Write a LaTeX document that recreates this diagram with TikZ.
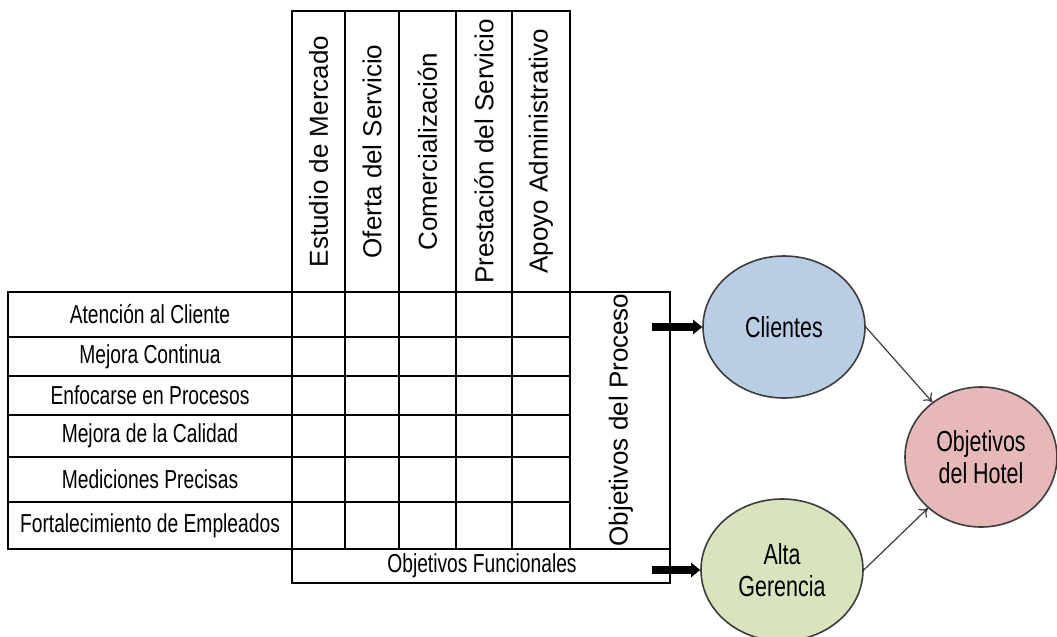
\documentclass[tikz,border=0pt]{standalone}
\usepackage{fontspec}
\setmainfont{Liberation Sans}
\newfontfamily\estrecha[FakeStretch=0.74]{Liberation Sans}
\usepackage{tikz}
\usetikzlibrary{positioning,arrows.meta,shapes.geometric}
\definecolor{cazul}{HTML}{B9CDE5}
\definecolor{cverde}{HTML}{D7E4BD}
\definecolor{crosa}{HTML}{E6B9B8}
\definecolor{cborde}{HTML}{3C3C3C}
\tikzset{
  linea/.style={line width=0.95pt, draw=black},
  fila/.style={font=\estrecha\fontsize{13}{15}\selectfont, inner sep=0pt},
  columna/.style={font=\fontsize{13}{15}\selectfont, rotate=90, inner sep=0pt},
  ovalo/.style={ellipse, draw=cborde, line width=0.8pt, minimum width=81pt,
    minimum height=71pt, inner sep=0pt, align=center,
    font=\estrecha\fontsize{14.5}{16}\selectfont},
  flechag/.style={-{Triangle[length=4.5pt,width=7pt]}, line width=3.6pt},
  flechaf/.style={-{To[length=4pt,width=6pt]}, line width=0.6pt, draw=cborde},
}

\begin{document}
\begin{tikzpicture}[x=0.5pt, y=-0.5pt]
  \useasboundingbox (0,0) rectangle (1057,637);
  \fill[white] (0,0) rectangle (1057,637);
  % tabla
  \draw[linea] (292,11) rectangle (570,292);
  \draw[linea] (8,292) rectangle (670,549);
  \draw[linea] (292,549) rectangle (670,583);
  \foreach \x in {292,345,399,456,512,570}
    \draw[linea] (\x,11) -- (\x,549);
  \foreach \y in {337,376,415,457,502}
    \draw[linea] (8,\y) -- (570,\y);
  \foreach \x/\t [count=\i] in {318.5/Estudio de Mercado, 372/Oferta del Servicio,
      427.5/Comercialización, 484/Prestación del Servicio, 541/Apoyo Administrativo}
    \node[columna] (c\i) at (\x,151.5) {\t};
  \foreach \y/\t [count=\i] in {314.5/Atención al Cliente, 356.5/Mejora Continua,
      395.5/Enfocarse en Procesos, 436/Mejora de la Calidad,
      479.5/Mediciones Precisas, 525.5/Fortalecimiento de Empleados}
    \node[fila] (f\i) at (150,\y) {\t};
  \node[columna] (proc) at (621,420) {Objetivos del Proceso};
  \node[fila] (func) at (482,566) {Objetivos Funcionales};
  % elipses
  \node[ovalo, fill=cazul] (cli) at (784,327) {Clientes};
  \node[ovalo, fill=cverde] (alta) at (782,570) {Alta\\Gerencia};
  \node[ovalo, fill=crosa, minimum width=76pt, minimum height=70pt] (hotel) at (981,457) {Objetivos\\del Hotel};
  \coordinate (p1) at (652,327);
  \coordinate (p2) at (652,570);
  \draw[flechag] (p1) -- (cli.west);
  \draw[flechag] (p2) -- (alta.west);
  \draw[flechaf] (cli.east) -- (hotel);
  \draw[flechaf] (alta.east) -- (hotel);
\end{tikzpicture}
\end{document}
